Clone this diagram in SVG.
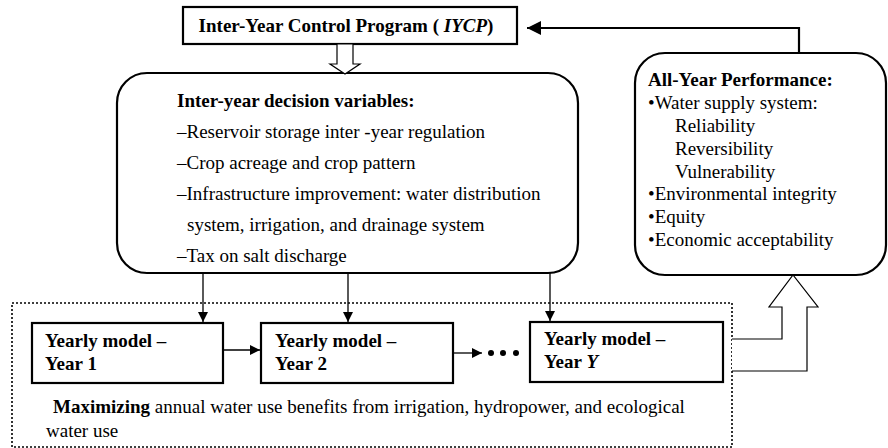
<svg xmlns="http://www.w3.org/2000/svg" width="888" height="448" viewBox="0 0 888 448">
<style>
svg text{font-family:"Liberation Serif" !important;font-size:19px}
.b{font-weight:bold}
.box{fill:#fff;stroke:#000;stroke-width:2.2}
.thin{fill:none;stroke:#000;stroke-width:1.3}
.hollow{fill:#fff;stroke:#000;stroke-width:1.2}
</style>
<defs>
<marker id="ah" viewBox="0 0 10 10" refX="10" refY="5" markerWidth="10" markerHeight="10" markerUnits="userSpaceOnUse" orient="auto">
<path d="M0,0 L10,5 L0,10 Z" fill="#000"/>
</marker>
<marker id="ahL" viewBox="0 0 14 14" refX="14" refY="7" markerWidth="14" markerHeight="14" markerUnits="userSpaceOnUse" orient="auto">
<path d="M0,0 L14,7 L0,14 Z" fill="#000"/>
</marker>
</defs>
<rect width="888" height="448" fill="#fff"/>

<g id="outer">
<rect x="12" y="303" width="720" height="144" fill="none" stroke="#000" stroke-width="1.6" stroke-dasharray="2,2"/>
<text style="font-family:'Liberation Serif'" font-family="Liberation Serif" x="53" y="413"><tspan class="b">Maximizing</tspan> annual water use benefits from irrigation, hydropower, and ecological</text>
<text style="font-family:'Liberation Serif'" font-family="Liberation Serif" x="46" y="437">water use</text>
</g>

<g id="iycp">
<rect class="box" x="183" y="7" width="334" height="37"/>
<text style="font-family:'Liberation Serif'" font-family="Liberation Serif" class="b" x="346" y="32" text-anchor="middle">Inter-Year Control Program ( <tspan font-style="italic">IYCP</tspan>)</text>
</g>

<g id="decision">
<rect class="box" x="117" y="73" width="461" height="200" rx="30" ry="30"/>
<text style="font-family:'Liberation Serif'" font-family="Liberation Serif" class="b" x="177" y="107">Inter-year decision variables:</text>
<text style="font-family:'Liberation Serif'" font-family="Liberation Serif" x="177" y="138">–Reservoir  storage inter -year regulation</text>
<text style="font-family:'Liberation Serif'" font-family="Liberation Serif" x="177" y="169">–Crop acreage  and crop pattern</text>
<text style="font-family:'Liberation Serif'" font-family="Liberation Serif" x="177" y="200">–Infrastructure improvement: water distribution</text>
<text style="font-family:'Liberation Serif'" font-family="Liberation Serif" x="187" y="231">system, irrigation, and drainage system</text>
<text style="font-family:'Liberation Serif'" font-family="Liberation Serif" x="177" y="262">–Tax on salt discharge</text>
</g>

<g id="performance">
<rect class="box" x="635" y="53" width="251" height="222" rx="30" ry="30"/>
<text style="font-family:'Liberation Serif'" font-family="Liberation Serif" class="b" x="648" y="86">All-Year Performance:</text>
<text style="font-family:'Liberation Serif'" font-family="Liberation Serif" x="648" y="109">•Water supply system:</text>
<text style="font-family:'Liberation Serif'" font-family="Liberation Serif" x="675" y="132">Reliability</text>
<text style="font-family:'Liberation Serif'" font-family="Liberation Serif" x="675" y="155">Reversibility</text>
<text style="font-family:'Liberation Serif'" font-family="Liberation Serif" x="675" y="178">Vulnerability</text>
<text style="font-family:'Liberation Serif'" font-family="Liberation Serif" x="648" y="200">•Environmental integrity</text>
<text style="font-family:'Liberation Serif'" font-family="Liberation Serif" x="648" y="223">•Equity</text>
<text style="font-family:'Liberation Serif'" font-family="Liberation Serif" x="648" y="246">•Economic acceptability</text>
</g>

<g id="year1">
<rect class="box" x="32" y="323" width="191" height="60"/>
<text style="font-family:'Liberation Serif'" font-family="Liberation Serif" class="b" x="45" y="347">Yearly model  –</text>
<text style="font-family:'Liberation Serif'" font-family="Liberation Serif" class="b" x="45" y="370">Year 1</text>
</g>
<g id="year2">
<rect class="box" x="261" y="323" width="192" height="60"/>
<text style="font-family:'Liberation Serif'" font-family="Liberation Serif" class="b" x="275" y="347">Yearly model  –</text>
<text style="font-family:'Liberation Serif'" font-family="Liberation Serif" class="b" x="275" y="370">Year 2</text>
</g>
<g id="yearY">
<rect class="box" x="530" y="322" width="193" height="60"/>
<text style="font-family:'Liberation Serif'" font-family="Liberation Serif" class="b" x="544" y="345">Yearly model  –</text>
<text style="font-family:'Liberation Serif'" font-family="Liberation Serif" class="b" x="544" y="368">Year <tspan font-style="italic">Y</tspan></text>
</g>

<g id="connectors">
<path class="hollow" d="M337,44 L353,44 L353,64 L360,64 L345,74 L330,64 L337,64 Z"/>
<path class="thin" d="M203,273 L203,322" marker-end="url(#ah)"/>
<path class="thin" d="M348,273 L348,322" marker-end="url(#ah)"/>
<path class="thin" d="M550,273 L550,321" marker-end="url(#ah)"/>
<path class="thin" d="M223,350 L260,350" marker-end="url(#ah)"/>
<path class="thin" d="M453,353 L482,353" marker-end="url(#ah)"/>
<circle cx="491" cy="353" r="3"/>
<circle cx="503" cy="353" r="3"/>
<circle cx="516" cy="353" r="3"/>
<path class="hollow" d="M732,339 L782,339 L782,307 L769,307 L793,275 L818,307 L807,307 L807,371 L732,371"/>
<path d="M799,53 L799,28 L527,28" fill="none" stroke="#000" stroke-width="2.2" marker-end="url(#ahL)"/>
</g>
</svg>
